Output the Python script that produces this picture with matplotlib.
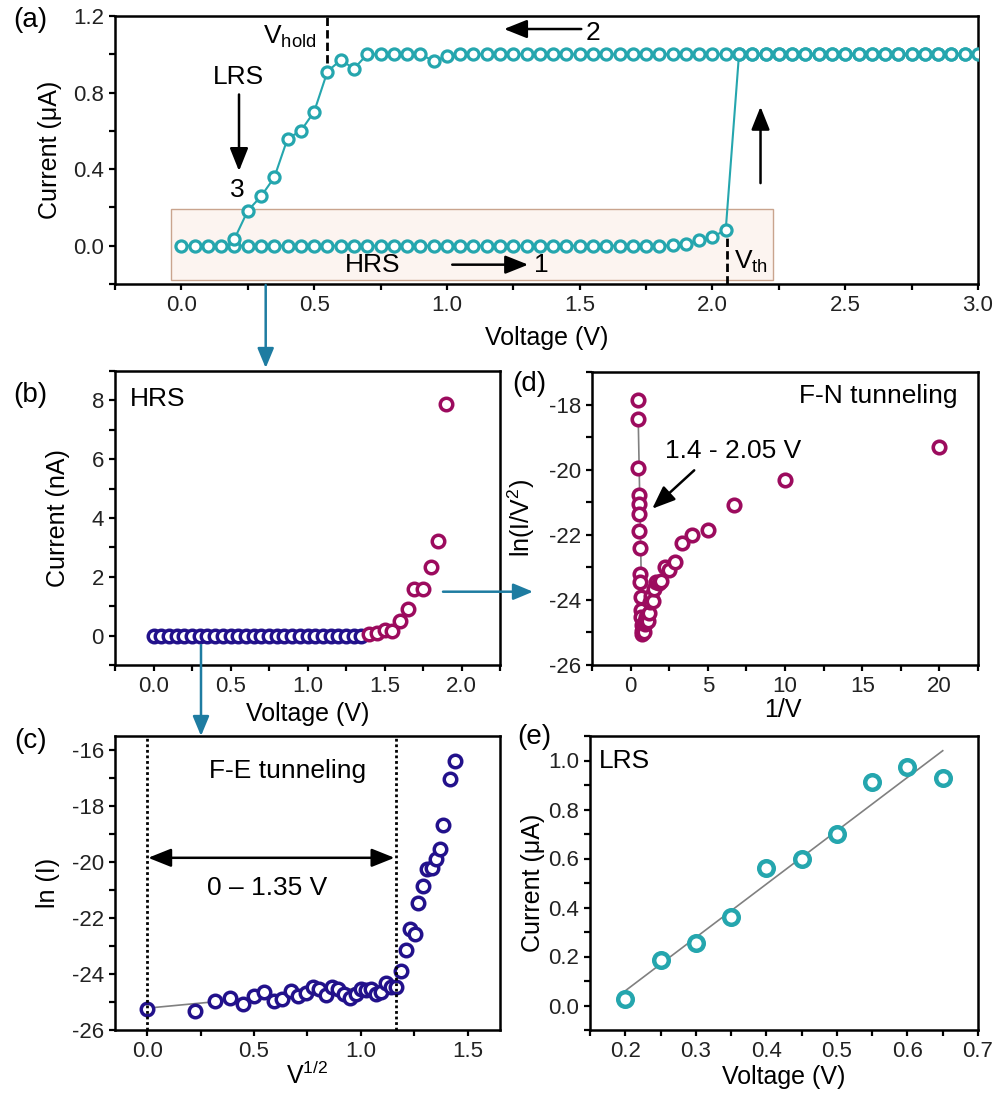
import numpy as np
import matplotlib
matplotlib.use('Agg')
import matplotlib.pyplot as plt
from matplotlib.ticker import MultipleLocator
from matplotlib.patches import Rectangle, FancyArrowPatch

plt.rcParams['font.family'] = ['Liberation Sans', 'DejaVu Sans']
plt.rcParams['mathtext.default'] = 'regular'
plt.rcParams['axes.unicode_minus'] = False

# ---------------- data ----------------
# (a) full sweep: forward 0 -> 3 V, backward 3 -> 0.2 V (step 0.05 V)
fwd_V = np.round(np.arange(0, 61) * 0.05, 2)
fwd_I = [0.000, 0.000, 0.000, 0.000, 0.000, 0.000, 0.000, 0.000, 0.000, 0.000,
         0.000, 0.000, 0.000, 0.000, 0.000, 0.000, 0.000, 0.000, 0.000, 0.000,
         0.000, 0.000, 0.000, 0.000, 0.000, 0.000, 0.000, 0.000, 0.000, 0.000,
         0.000, 0.000, 0.000, 0.000, 0.000, 0.000, 0.000, 0.002, 0.010, 0.028,
         0.045, 0.083, 1.000, 1.000, 1.000, 1.000, 1.000, 1.000, 1.000, 1.000,
         1.000, 1.000, 1.000, 1.000, 1.000, 1.000, 1.000, 1.000, 1.000, 1.000,
         1.000]
bwd_V = np.round(np.arange(59, 3, -1) * 0.05, 2)
bwd_I = [1.000, 1.000, 1.000, 1.000, 1.000, 1.000, 1.000, 1.000, 1.000, 1.000,
         1.000, 1.000, 1.000, 1.000, 1.000, 1.000, 1.000, 1.000, 1.000, 1.000,
         1.000, 1.000, 1.000, 1.000, 1.000, 1.000, 1.000, 1.000, 1.000, 1.000,
         1.000, 1.000, 1.000, 1.000, 1.000, 1.000, 1.000, 1.000, 1.000, 0.990,
         0.965, 1.000, 1.000, 1.000, 1.000, 1.000,
         0.925, 0.970, 0.910, 0.700, 0.600, 0.560, 0.357, 0.258, 0.183, 0.036]

# (b) HRS, current in nA
b_V_low = np.round(np.arange(0, 28) * 0.05, 2)
b_I_low = [0.0, 0.0, 0.0, 0.0, 0.0, 0.0, 0.0, 0.0, 0.0, 0.0,
           0.0, 0.0, 0.0, 0.0, 0.0, 0.0, 0.0, 0.0, 0.0, 0.0,
           0.0, 0.0, 0.0, 0.0, 0.0, 0.0, 0.0, 0.0]
b_V_high = [1.40, 1.45, 1.50, 1.55, 1.60, 1.65, 1.69, 1.75, 1.80, 1.85, 1.90]
b_I_high = [0.05, 0.10, 0.20, 0.15, 0.49, 0.89, 1.57, 1.59, 2.33, 3.22, 7.88]

# (c) F-E plot: ln(I) vs V^1/2
c_x = [0.000, 0.224, 0.316, 0.387, 0.447, 0.500, 0.548, 0.592, 0.632, 0.671,
       0.707, 0.742, 0.775, 0.806, 0.837, 0.866, 0.894, 0.922, 0.949, 0.975,
       1.000, 1.025, 1.049, 1.072, 1.095, 1.118, 1.140, 1.162,
       1.186, 1.209, 1.231, 1.251, 1.268, 1.292, 1.307, 1.331, 1.350, 1.368,
       1.383, 1.418, 1.438]
c_y = [-25.26, -25.31, -24.96, -24.86, -25.06, -24.78, -24.66, -24.95, -24.90, -24.60,
       -24.80, -24.68, -24.48, -24.53, -24.75, -24.45, -24.53, -24.72, -24.86, -24.71,
       -24.54, -24.56, -24.54, -24.71, -24.63, -24.33, -24.45, -24.45,
       -23.89, -23.16, -22.39, -22.56, -21.46, -20.86, -20.26, -20.20, -19.88, -19.52,
       -18.69, -17.02, -16.38]
fit_c_x = [0.0, 1.16]
fit_c_y = [-25.22, -24.38]

# (d) F-N plot: ln(I/V^2) vs 1/V
d_x = [0.49, 0.50, 0.51, 0.53, 0.54, 0.56, 0.57, 0.59, 0.61, 0.63, 0.65, 0.67, 0.69, 0.71,
       0.74, 0.77, 0.80, 0.83, 0.87, 0.91, 0.95, 1.00, 1.05, 1.11, 1.18, 1.25, 1.33, 1.43,
       1.54, 1.67, 1.82, 2.00, 2.22, 2.50, 2.86, 3.33, 4.00, 5.00, 6.67, 10.0, 20.0]
d_y = [-17.85, -18.44, -19.95, -20.79, -21.05, -21.35, -21.87, -22.40, -23.20, -23.45,
       -23.90, -24.30, -24.52, -24.78,
       -25.05, -24.97, -24.78, -25.00, -24.99, -24.73, -24.66, -24.54, -24.61, -24.65,
       -24.39, -24.08, -23.87, -24.04, -23.67, -23.46, -23.48, -23.41, -23.00, -23.07,
       -22.85, -22.25, -22.01, -21.84, -21.08, -20.33, -19.29]
fit_d_x = [0.50, 0.75]
fit_d_y = [-18.6, -24.8]

# (e) LRS, current in uA
e_V = [0.20, 0.25, 0.30, 0.35, 0.40, 0.45, 0.50, 0.55, 0.60, 0.65]
e_I = [0.027, 0.184, 0.256, 0.360, 0.560, 0.600, 0.700, 0.912, 0.973, 0.929]
fit_e_x = [0.20, 0.65]
fit_e_y = [0.06, 1.04]

# ---------------- style ----------------
TEAL = '#25A6AE'
NAVY = '#22118B'
MAROON = '#9C0B5E'
CONN = '#1E7CA1'
FITC = '#808080'
TICK_FS = 16
LABEL_FS = 18
TEXT_FS = 19

W, H = 999, 1093


def px_rect(left, top, right, bottom):
    return [left / W, 1 - bottom / H, (right - left) / W, (bottom - top) / H]


def style(ax, xmaj, xmin, ymaj, ymin):
    for s in ax.spines.values():
        s.set_linewidth(1.8)
    ax.xaxis.set_major_locator(MultipleLocator(xmaj))
    ax.xaxis.set_minor_locator(MultipleLocator(xmin))
    ax.yaxis.set_major_locator(MultipleLocator(ymaj))
    ax.yaxis.set_minor_locator(MultipleLocator(ymin))
    ax.tick_params(which='both', direction='out', width=1.6, length=4,
                   top=False, right=False, labelsize=TICK_FS,
                   labelcolor='#222222', pad=4)


def arrow(ax, start, end, style_='-|>,head_length=0.7,head_width=0.28'):
    ax.annotate('', xy=end, xytext=start,
                arrowprops=dict(arrowstyle=style_, color='k', lw=1.8,
                                shrinkA=0, shrinkB=0, mutation_scale=20))


fig = plt.figure(figsize=(W / 100, H / 100), dpi=100)

# ---------------- (a) ----------------
ax = fig.add_axes(px_rect(115, 16, 978, 284))
ax.add_patch(Rectangle((-0.0375, -0.177), 2.265, 0.369, facecolor='#FCF4F0',
                       edgecolor='#C9A48E', lw=1.0, zorder=0))
ax.plot(fwd_V, fwd_I, '-o', color=TEAL, lw=1.5, ms=8, mew=2.3,
        mfc='white', mec=TEAL, zorder=3)
ax.plot(bwd_V, bwd_I, '-o', color=TEAL, lw=1.5, ms=8, mew=2.3,
        mfc='white', mec=TEAL, zorder=3)
ax.set_xlim(-0.25, 3.0)
ax.set_ylim(-0.2, 1.2)
style(ax, 0.5, 0.25, 0.4, 0.2)
ax.set_xlabel('Voltage (V)', fontsize=LABEL_FS)
ax.set_ylabel('Current (μA)', fontsize=LABEL_FS)
ax.xaxis.set_label_coords(0.5, -0.155)
ax.yaxis.set_label_coords(-0.061, 0.5)
V_HOLD, V_TH = 0.55, 2.055
ax.plot([V_HOLD, V_HOLD], [0.955, 1.2], 'k--', lw=2, dashes=(3, 1.5), zorder=4)
ax.plot([V_TH, V_TH], [-0.2, 0.045], 'k--', lw=2, dashes=(3, 1.5), zorder=4)
ax.text(0.41, 1.09, 'V$_{hold}$', fontsize=TEXT_FS, ha='center', va='center')
ax.text(2.145, -0.085, 'V$_{th}$', fontsize=TEXT_FS, ha='center', va='center')
ax.text(0.213, 0.88, 'LRS', fontsize=TEXT_FS, ha='center', va='center')
arrow(ax, (0.217, 0.79), (0.217, 0.39))
ax.text(0.21, 0.29, '3', fontsize=TEXT_FS, ha='center', va='center')
ax.text(0.72, -0.10, 'HRS', fontsize=TEXT_FS, ha='center', va='center')
arrow(ax, (1.02, -0.099), (1.306, -0.099))
ax.text(1.356, -0.10, '1', fontsize=TEXT_FS, ha='center', va='center')
arrow(ax, (1.506, 1.132), (1.215, 1.132))
ax.text(1.55, 1.11, '2', fontsize=TEXT_FS, ha='center', va='center')
arrow(ax, (2.181, 0.327), (2.181, 0.726))

# ---------------- (b) ----------------
ax = fig.add_axes(px_rect(115, 371, 500, 665))
ax.plot(b_V_low, b_I_low, 'o', ms=9, mew=2.5, mfc='white', mec=NAVY, ls='none')
ax.plot(b_V_high, b_I_high, 'o', ms=9, mew=2.5, mfc='white', mec=MAROON, ls='none')
ax.set_xlim(-0.25, 2.25)
ax.set_ylim(-1, 9)
style(ax, 0.5, 0.25, 2, 1)
ax.set_xlabel('Voltage (V)', fontsize=LABEL_FS)
ax.set_ylabel('Current (nA)', fontsize=LABEL_FS)
ax.xaxis.set_label_coords(0.5, -0.126)
ax.yaxis.set_label_coords(-0.117, 0.5)
ax.text(-0.155, 8.05, 'HRS', fontsize=TEXT_FS, ha='left', va='center')

# ---------------- (d) ----------------
ax = fig.add_axes(px_rect(592, 372, 978, 665))
ax.plot(fit_d_x, fit_d_y, '-', color=FITC, lw=1.2, zorder=1)
ax.plot(d_x, d_y, 'o', ms=9, mew=2.6, mfc='white', mec=MAROON, ls='none', zorder=2)
ax.set_xlim(-2.5, 22.5)
ax.set_ylim(-26, -17)
style(ax, 5, 2.5, 2, 1)
ax.set_xlabel('1/V', fontsize=LABEL_FS)
ax.set_ylabel('ln(I/V$^2$)', fontsize=LABEL_FS)
ax.xaxis.set_label_coords(0.495, -0.112)
ax.yaxis.set_label_coords(-0.142, 0.5)
ax.text(21.2, -17.74, 'F-N tunneling', fontsize=TEXT_FS, ha='right', va='center')
ax.text(6.64, -19.44, '1.4 - 2.05 V', fontsize=TEXT_FS, ha='center', va='center')
arrow(ax, (4.12, -20.02), (1.4, -21.2))

# ---------------- (c) ----------------
ax = fig.add_axes(px_rect(115, 736, 500, 1030))
ax.plot(fit_c_x, fit_c_y, '-', color=FITC, lw=1.2, zorder=1)
ax.plot(c_x, c_y, 'o', ms=9, mew=2.5, mfc='white', mec=NAVY, ls='none', zorder=2)
ax.set_xlim(-0.15, 1.65)
ax.set_ylim(-26, -15.5)
style(ax, 0.5, 0.25, 2, 1)
ax.set_xlabel('V$^{1/2}$', fontsize=LABEL_FS)
ax.set_ylabel('ln (I)', fontsize=LABEL_FS)
ax.xaxis.set_label_coords(0.5, -0.108)
ax.yaxis.set_label_coords(-0.143, 0.5)
fe_end = np.sqrt(1.35)
ax.axvline(0.0, color='k', ls=(0, (1, 1)), lw=2)
ax.axvline(fe_end, color='k', ls=(0, (1, 1)), lw=2)
arrow(ax, (fe_end - 0.005, -19.85), (0.005, -19.85),
      style_='<|-|>,head_length=0.7,head_width=0.28')
ax.text(0.56, -20.92, '0 – 1.35 V', fontsize=TEXT_FS, ha='center', va='center')
ax.text(0.657, -16.75, 'F-E tunneling', fontsize=TEXT_FS, ha='center', va='center')

# ---------------- (e) ----------------
ax = fig.add_axes(px_rect(590, 736, 978, 1030))
ax.plot(fit_e_x, fit_e_y, '-', color=FITC, lw=1.2, zorder=1)
ax.plot(e_V, e_I, 'o', ms=10.5, mew=3.2, mfc='white', mec=TEAL, ls='none', zorder=2)
ax.set_xlim(0.15, 0.7)
ax.set_ylim(-0.1, 1.1)
style(ax, 0.1, 0.05, 0.2, 0.1)
ax.set_xlabel('Voltage (V)', fontsize=LABEL_FS)
ax.set_ylabel('Current (μA)', fontsize=LABEL_FS)
ax.xaxis.set_label_coords(0.5, -0.119)
ax.yaxis.set_label_coords(-0.116, 0.5)
ax.text(0.163, 1.0, 'LRS', fontsize=TEXT_FS, ha='left', va='center')

# ---------------- panel labels ----------------
for lab, x, y in [('(a)', 30, 20), ('(b)', 30, 395), ('(c)', 31, 741),
                  ('(d)', 529, 384), ('(e)', 534, 737)]:
    fig.text(x / W, 1 - y / H, lab, fontsize=20, ha='center', va='center')

# ---------------- connector arrows between panels ----------------
for (x0, y0), (x1, y1) in [((265.7, 285), (265.7, 368)),
                           ((201, 645), (201, 736)),
                           ((443, 591.7), (533, 591.7))]:
    fig.add_artist(FancyArrowPatch((x0 / W, 1 - y0 / H), (x1 / W, 1 - y1 / H),
                                   transform=fig.transFigure,
                                   arrowstyle='-|>,head_length=0.6,head_width=0.25',
                                   mutation_scale=20, color=CONN, lw=1.8,
                                   shrinkA=0, shrinkB=0))

fig.savefig('out.png', dpi=100)
